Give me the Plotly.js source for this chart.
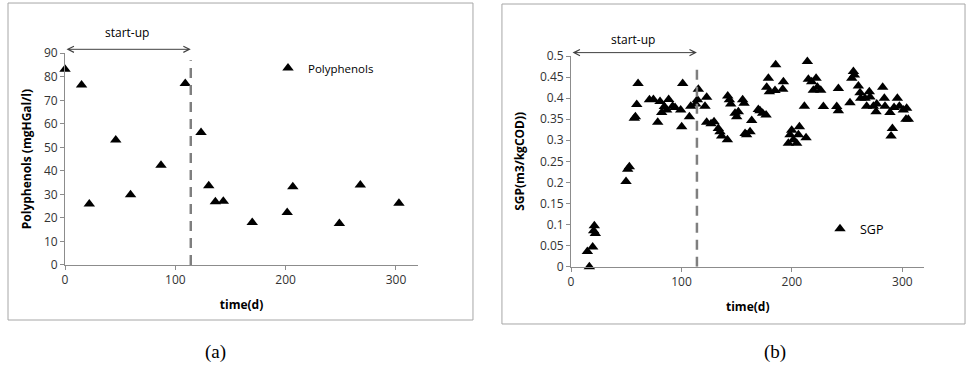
<!DOCTYPE html>
<html>
<head>
<meta charset="utf-8">
<script src="https://cdn.plot.ly/plotly-3.0.1.min.js"></script>
<style>html,body{margin:0;padding:0;background:#fff;}#chart{width:969px;height:368px;}</style>
</head>
<body>
<div id="chart"></div>
<script>
// Panel (a): polyphenols
var polyTime = [0, 15, 22, 46, 59.4, 87, 109, 123.3, 130.3, 136.3, 143.5, 169.7, 201.4, 206.5, 248.7, 267.7, 302.7];
var polyValue = [83.2, 76.5, 25.9, 53.1, 29.9, 42.4, 77.2, 56.3, 33.7, 26.9, 27.1, 18.1, 22.3, 33.3, 17.6, 34, 26.2];

// Panel (b): SGP
var sgpTime = [14.8, 16.6, 19.6, 20.5, 21.1, 22, 49.8, 51.3, 52.8, 57.3, 58.3, 59.5, 60.7,
  71, 74.6, 78.5, 80.6, 82.1, 84.5, 86.6, 88.4, 92, 94.2, 99.3, 100.2, 101.1, 107.2, 108.4,
  112.9, 115.3, 114.4, 121.3, 122.8, 122.8, 126.8, 129.5, 133.4, 134.9, 136.4, 141.6, 141.9,
  143.4, 144.6, 148.5, 150, 151.5, 155.4, 156.7, 157.6, 159, 162.1, 163.6, 169.6, 171.1,
  173.5, 176.6, 177.2, 178.7, 179.6, 185.3, 184.7, 191.7, 192.3, 196.8, 198.3, 199.8, 201.3,
  204.3, 206.8, 205.9, 211.3, 212.8, 214, 214.9, 217.9, 219.4, 221.9, 223.1, 226.1, 228.5,
  240.6, 242.1, 242.1, 252.6, 254.2, 255.7, 256.6, 260.2, 261.7, 262.3, 266.2, 267.7, 270.1,
  270.7, 273.8, 276.2, 276.8, 282.2, 283.7, 284.3, 288.8, 289.8, 291, 292.5, 295.5, 297.3,
  300.9, 303.9, 303.3, 305.4];
var sgpValue = [0.036, 0.0, 0.047, 0.085, 0.097, 0.079, 0.202, 0.231, 0.237, 0.352, 0.356, 0.385, 0.435,
  0.396, 0.397, 0.343, 0.392, 0.366, 0.38, 0.372, 0.397, 0.381, 0.378, 0.372, 0.332, 0.435, 0.356, 0.381,
  0.386, 0.421, 0.396, 0.381, 0.402, 0.343, 0.339, 0.344, 0.328, 0.32, 0.31, 0.301, 0.405,
  0.396, 0.386, 0.364, 0.356, 0.368, 0.396, 0.388, 0.316, 0.313, 0.32, 0.347, 0.373, 0.37,
  0.364, 0.36, 0.426, 0.447, 0.415, 0.479, 0.418, 0.421, 0.439, 0.293, 0.313, 0.324, 0.301,
  0.293, 0.332, 0.313, 0.381, 0.306, 0.487, 0.445, 0.439, 0.419, 0.447, 0.426, 0.419, 0.38,
  0.38, 0.37, 0.423, 0.389, 0.447, 0.463, 0.455, 0.429, 0.413, 0.4, 0.4, 0.381, 0.415,
  0.403, 0.381, 0.368, 0.386, 0.426, 0.4, 0.381, 0.366, 0.31, 0.328, 0.378, 0.4, 0.381,
  0.372, 0.376, 0.35, 0.35];

var startupEnd = 114;
var timeTicks = [0, 100, 200, 300];

var FONT = 'Open Sans, Noto Sans, sans-serif';
var axisGray = '#8c8c8c';
var marker = {symbol: 'triangle-up', size: 10, color: '#000000'};

var traces = [
  {type: 'scatter', mode: 'markers', name: 'Polyphenols', x: polyTime, y: polyValue,
   xaxis: 'x', yaxis: 'y', marker: marker, legend: 'legend', showlegend: true, cliponaxis: false},
  {type: 'scatter', mode: 'markers', name: 'SGP', x: sgpTime, y: sgpValue,
   xaxis: 'x2', yaxis: 'y2', marker: marker, legend: 'legend2', showlegend: true, cliponaxis: false}
];

function xAxis(domain, anchor) {
  return {domain: domain, anchor: anchor, range: [0, 320], tickvals: timeTicks,
    showgrid: false, zeroline: false, showline: true, linecolor: axisGray, linewidth: 1,
    ticks: 'outside', ticklen: 4, tickcolor: axisGray,
    tickfont: {family: FONT, size: 12, color: '#333333'},
    title: {text: '<b>time(d)</b>', font: {family: FONT, size: 12, color: '#000'}, standoff: 13}};
}
function yAxis(domain, anchor, range, dtick, title, standoff) {
  return {domain: domain, anchor: anchor, range: range, dtick: dtick, tick0: 0,
    showgrid: false, zeroline: false, showline: true, linecolor: axisGray, linewidth: 1,
    ticks: 'outside', ticklen: 4, tickcolor: axisGray,
    tickfont: {family: FONT, size: 12, color: '#333333'},
    title: {text: '<b>' + title + '</b>', font: {family: FONT, size: 12, color: '#000'}, standoff: standoff}};
}

var layout = {
  width: 969, height: 368,
  margin: {l: 0, r: 0, t: 0, b: 0},
  paper_bgcolor: '#fff', plot_bgcolor: '#fff',
  showlegend: true,
  font: {family: FONT, size: 11, color: '#000'},
  xaxis: xAxis([0.0671, 0.4314], 'y'),
  yaxis: yAxis([0.2799, 0.8552], 'x', [0, 90], 10, 'Polyphenols (mgHGal/l)', 9),
  xaxis2: xAxis([0.5893, 0.9540], 'y2'),
  yaxis2: yAxis([0.2753, 0.8478], 'x2', [0, 0.5], 0.05, 'SGP(m3/kgCOD))', 12),
  legend: {x: 268 / 969, y: 0.815, xanchor: 'left', yanchor: 'middle', bgcolor: 'rgba(0,0,0,0)',
    font: {family: FONT, size: 11.5, color: '#000'}, itemwidth: 30},
  legend2: {x: 820 / 969, y: 0.3777, xanchor: 'left', yanchor: 'middle', bgcolor: 'rgba(0,0,0,0)',
    font: {family: FONT, size: 12.5, color: '#000'}, itemwidth: 30},
  shapes: [
    {type: 'rect', xref: 'paper', yref: 'paper', x0: 0.00826, x1: 0.4881, y0: 0.1304, y1: 0.9918,
     line: {color: '#a6a6a6', width: 1}},
    {type: 'rect', xref: 'paper', yref: 'paper', x0: 0.518, x1: 0.9959, y0: 0.1196, y1: 0.9891,
     line: {color: '#a6a6a6', width: 1}},
    {type: 'line', xref: 'x', yref: 'y', x0: startupEnd, x1: startupEnd, y0: 0, y1: 87,
     line: {color: '#7f7f7f', width: 2.5, dash: '10px,7px'}},
    {type: 'line', xref: 'x2', yref: 'y2', x0: startupEnd, x1: startupEnd, y0: 0, y1: 0.481,
     line: {color: '#7f7f7f', width: 2.5, dash: '10px,7px'}}
  ],
  annotations: [
    {xref: 'x', yref: 'paper', x: startupEnd, y: 0.866, axref: 'x', ayref: 'pixel', ax: 0, ay: 0,
     text: '', showarrow: true, arrowhead: 5, arrowside: 'end+start', arrowsize: 1.2, arrowwidth: 1, arrowcolor: '#404040'},
    {xref: 'x2', yref: 'paper', x: startupEnd, y: 0.857, axref: 'x2', ayref: 'pixel', ax: 0, ay: 0,
     text: '', showarrow: true, arrowhead: 5, arrowside: 'end+start', arrowsize: 1.2, arrowwidth: 1, arrowcolor: '#404040'},
    {xref: 'x', yref: 'paper', x: 56, y: 0.913, xanchor: 'center', yanchor: 'middle', text: 'start-up', showarrow: false,
     font: {family: FONT, size: 12, color: '#000'}},
    {xref: 'x2', yref: 'paper', x: 56, y: 0.894, xanchor: 'center', yanchor: 'middle', text: 'start-up', showarrow: false,
     font: {family: FONT, size: 12, color: '#000'}},
    {xref: 'paper', yref: 'paper', x: 215 / 969, y: (368 - 352) / 368, xanchor: 'center', yanchor: 'middle',
     text: '(a)', showarrow: false, font: {family: 'Liberation Serif, DejaVu Serif, serif', size: 19, color: '#000'}},
    {xref: 'paper', yref: 'paper', x: 775 / 969, y: (368 - 352) / 368, xanchor: 'center', yanchor: 'middle',
     text: '(b)', showarrow: false, font: {family: 'Liberation Serif, DejaVu Serif, serif', size: 19, color: '#000'}}
  ]
};

Plotly.newPlot('chart', traces, layout, {staticPlot: true, displayModeBar: false});
</script>
</body>
</html>
